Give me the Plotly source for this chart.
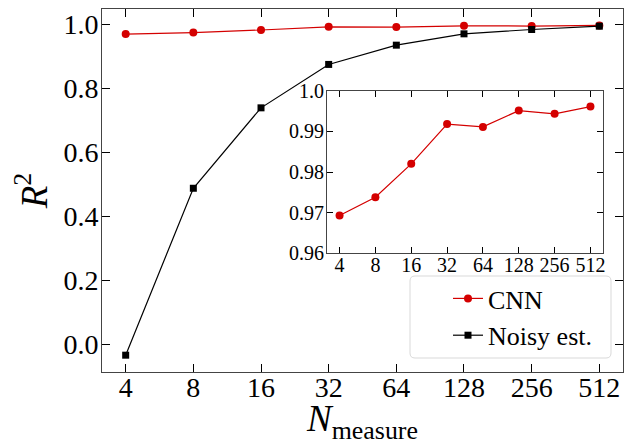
import math
import plotly.graph_objects as go

# ---- data ----
n_measure = [4, 8, 16, 32, 64, 128, 256, 512]
tick_labels = ["4", "8", "16", "32", "64", "128", "256", "512"]
cnn_r2 = [0.9693, 0.9738, 0.9820, 0.9918, 0.9911, 0.9951, 0.9943, 0.9961]
noisy_r2 = [-0.033, 0.488, 0.739, 0.8745, 0.9346, 0.970, 0.9835, 0.9938]
main_yticks = [0.0, 0.2, 0.4, 0.6, 0.8, 1.0]
inset_yticks = [0.96, 0.97, 0.98, 0.99, 1.0]
inset_ylabels = ["0.96", "0.97", "0.98", "0.99", "1.0"]

RED = "#d40000"
BLACK = "#000000"
FONT = "Liberation Serif"

OFF = 8  # page body margin
W, H = 640 - OFF, 445 - OFF
# plot area in page pixels: x 102..623, y 9..372
PL, PR, PT, PB = 102, 623, 9, 372
ML, MT = PL - OFF, PT - OFF
PW, PH = PR - PL, PB - PT
MR, MB = W - ML - PW, H - MT - PH

def px_x(x):
    return (x - PL) / PW

def px_y(y):
    return (PB - y) / PH

l2 = math.log10(2)
xr = [math.log10(4) - 0.35 * l2, math.log10(512) + 0.35 * l2]

fig = go.Figure()
fig.add_trace(go.Scatter(
    x=n_measure, y=cnn_r2, name="CNN", mode="lines+markers",
    line=dict(color=RED, width=1.2),
    marker=dict(symbol="circle", size=8, color=RED),
    xaxis="x", yaxis="y"))
fig.add_trace(go.Scatter(
    x=n_measure, y=noisy_r2, name="Noisy est.", mode="lines+markers",
    line=dict(color=BLACK, width=1.2),
    marker=dict(symbol="square", size=7, color=BLACK),
    xaxis="x", yaxis="y"))
fig.add_trace(go.Scatter(
    x=n_measure, y=cnn_r2, name="CNN", mode="lines+markers", showlegend=False,
    line=dict(color=RED, width=1.2),
    marker=dict(symbol="circle", size=8, color=RED),
    xaxis="x2", yaxis="y2"))

axis_common = dict(
    showline=True, linecolor="#444", linewidth=1, mirror="allticks",
    ticks="inside", tickcolor="black", tickwidth=1,
    showgrid=False, zeroline=False, automargin=False,
)

fig.update_layout(
    width=W, height=H,
    margin=dict(l=ML, r=MR, t=MT, b=MB, autoexpand=False),
    paper_bgcolor="white", plot_bgcolor="white",
    font=dict(family=FONT, color="black"),
    xaxis=dict(
        axis_common, type="log", range=xr, domain=[0, 1],
        tickvals=n_measure, ticktext=tick_labels, ticklen=8,
        tickfont=dict(size=28, family=FONT), ticklabelstandoff=-10,
        title=dict(text="<i>N</i><sub>measure</sub>", font=dict(size=37, family=FONT), standoff=21),
    ),
    yaxis=dict(
        axis_common, range=[-0.0855, 1.0475], domain=[0, 1],
        tickvals=main_yticks, tickformat=".1f", ticklen=8,
        tickfont=dict(size=28, family=FONT), ticklabelstandoff=-3,
        title=dict(text="<i>R</i><sup>2</sup>", font=dict(size=37, family=FONT), standoff=26),
    ),
    xaxis2=dict(
        axis_common, type="log", range=xr, anchor="y2",
        domain=[px_x(327), px_x(603)],
        tickvals=n_measure, ticktext=tick_labels, ticklen=6,
        tickfont=dict(size=20, family=FONT), ticklabelstandoff=-6,
    ),
    yaxis2=dict(
        axis_common, range=[0.96, 1.0], anchor="x2",
        domain=[px_y(253.3), px_y(90.7)],
        tickvals=inset_yticks, ticktext=inset_ylabels, ticklen=6,
        tickfont=dict(size=20, family=FONT), ticklabelstandoff=-2,
    ),
    legend=dict(
        x=px_x(448), y=px_y(275), xanchor="left", yanchor="top",
        bgcolor="rgba(0,0,0,0)", borderwidth=0,
        font=dict(size=26, family=FONT),
        tracegroupgap=0, itemwidth=30,
    ),
    showlegend=True,
)

# rounded legend frame
x0, x1 = px_x(410), px_x(611)
y0, y1 = px_y(358), px_y(276)
rx, ry = 5 / PW, 5 / PH
path = (f"M {x0+rx},{y0} L {x1-rx},{y0} Q {x1},{y0} {x1},{y0+ry} "
        f"L {x1},{y1-ry} Q {x1},{y1} {x1-rx},{y1} L {x0+rx},{y1} "
        f"Q {x0},{y1} {x0},{y1-ry} L {x0},{y0+ry} Q {x0},{y0} {x0+rx},{y0} Z")
fig.add_shape(type="path", path=path, xref="paper", yref="paper",
              line=dict(color="#d9d9d9", width=1),
              fillcolor="rgba(255,255,255,0.85)", layer="above")

fig.write_html("out.html")
